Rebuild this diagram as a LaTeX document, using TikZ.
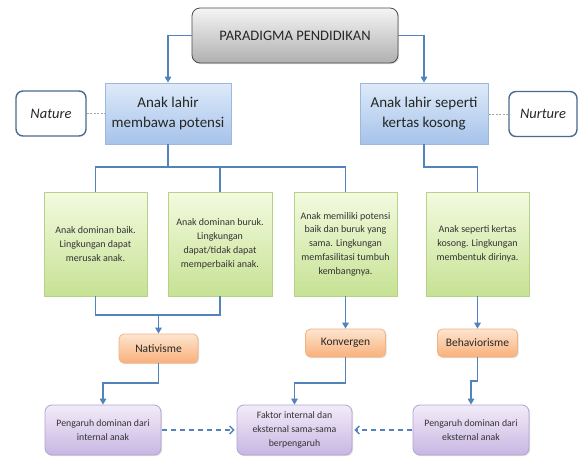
\documentclass[tikz,border=0pt]{standalone}
\usepackage{fontspec}
\setmainfont{Carlito}
\usetikzlibrary{arrows.meta,shadows}
\definecolor{conncol}{HTML}{5283BA}
\definecolor{txt}{HTML}{262626}
\definecolor{blueT}{HTML}{DEEAF9}
\definecolor{blueB}{HTML}{A6C3EA}
\definecolor{blueD}{HTML}{9DB8DD}
\definecolor{natD}{HTML}{4A6A90}
\definecolor{greenT}{HTML}{F4FADF}
\definecolor{greenB}{HTML}{C6E294}
\definecolor{greenD}{HTML}{B7D08A}
\definecolor{orT}{HTML}{FDE5D0}
\definecolor{orB}{HTML}{F9B07A}
\definecolor{orD}{HTML}{F3B284}
\definecolor{puT}{HTML}{F2ECF9}
\definecolor{puB}{HTML}{C8B6E2}
\definecolor{puD}{HTML}{B4A2D2}
\begin{document}
\begin{tikzpicture}[x=1pt,y=-1pt,
  box/.style={draw, inner sep=2pt, align=center, text=txt},
  shad/.style={drop shadow={opacity=0.25, shadow xshift=1.2pt, shadow yshift=-1.2pt}},
  topbox/.style={box, shad, rounded corners=8pt, top color=gray!8, bottom color=gray!62, draw=black!70, line width=0.8pt,
     minimum width=206pt, minimum height=55pt, font=\fontsize{14.5}{17}\selectfont},
  bluebox/.style={box, shad, top color=blueT, bottom color=blueB, draw=blueD, line width=0.8pt,
     minimum height=61pt, font=\fontsize{15}{20}\selectfont},
  natbox/.style={box, rounded corners=7pt, fill=white, draw=natD, line width=1.4pt,
     minimum height=45pt, font=\fontsize{14.5}{17}\selectfont\itshape},
  greenbox/.style={box, shad, top color=greenT, bottom color=greenB, draw=greenD, line width=0.8pt,
     minimum width=103pt, minimum height=104pt, font=\fontsize{10}{13.8}\selectfont, text=black!80},
  orangebox/.style={box, shad, rounded corners=5pt, top color=orT, bottom color=orB, draw=orD, line width=0.8pt,
     minimum width=80pt, minimum height=28pt, font=\fontsize{11.5}{14}\selectfont},
  purplebox/.style={box, shad, rounded corners=7pt, top color=puT, bottom color=puB, draw=puD, line width=0.8pt,
     minimum width=116pt, minimum height=50pt, font=\fontsize{9.8}{14}\selectfont, text=black!80},
  conn/.style={draw=conncol, line width=1.8pt},
  arr/.style={conn, -{Triangle[length=6pt,width=6.5pt]}},
  dasharr/.style={draw=conncol, line width=1.4pt, dash pattern=on 5pt off 4pt, -{Straight Barb[length=4pt,width=8pt]}},
  dotline/.style={draw=gray!70, line width=0.8pt, dash pattern=on 2pt off 1.5pt}
]
\useasboundingbox (0,0) rectangle (579,456);
\fill[white] (0,0) rectangle (579,456);

% nodes
\node[topbox] (top) at (295,35.5) {PARADIGMA PENDIDIKAN};
\node[bluebox, minimum width=126pt] (bL) at (168,113.5) {Anak lahir\\membawa potensi};
\node[bluebox, minimum width=128pt] (bR) at (424,113.5) {Anak lahir seperti\\kertas kosong};
\node[natbox, minimum width=70pt] (nat) at (51,113.5) {Nature};
\node[natbox, minimum width=68pt] (nur) at (543,114) {Nurture};

\node[greenbox] (g1) at (95.5,244) {Anak dominan baik.\\Lingkungan dapat\\merusak anak.};
\node[greenbox, minimum width=104pt] (g2) at (220,244) {Anak dominan buruk.\\Lingkungan\\dapat/tidak dapat\\memperbaiki anak.};
\node[greenbox] (g3) at (345.5,244) {Anak memiliki potensi\\baik dan buruk yang\\sama. Lingkungan\\memfasilitasi tumbuh\\kembangnya.};
\node[greenbox] (g4) at (477.5,244) {Anak seperti kertas\\kosong. Lingkungan\\membentuk dirinya.};

\node[orangebox, minimum width=79pt, minimum height=29pt] (onat) at (158.5,348.5) {Nativisme};
\node[orangebox] (okon) at (345.5,343) {Konvergen};
\node[orangebox] (obeh) at (477.5,343) {Behaviorisme};

\node[purplebox] (p1) at (103,430) {Pengaruh dominan dari\\internal anak};
\node[purplebox, minimum width=115pt] (p2) at (294.5,430) {Faktor internal dan\\eksternal sama-sama\\berpengaruh};
\node[purplebox] (p3) at (471,430) {Pengaruh dominan dari\\eksternal anak};

% levels
\coordinate (bus1) at (0,167);
\coordinate (bus2) at (0,315);
\coordinate (bus3) at (0,383);
\coordinate (bus4) at (0,381);

% connectors
\draw[arr] (top.west) -| (bL.north);
\draw[arr] (top.east) -| (bR.north);
\draw[dotline] (nat.east) -- (nat.east -| bL.west);
\draw[dotline] (nur.west) -- (nur.west -| bR.east);

\draw[conn] (bL.south) -- (bL.south |- bus1);
\draw[conn] (g1.north) -- (g1.north |- bus1) -| (g3.north);
\draw[conn] (g2.north) -- (g2.north |- bus1);
\draw[conn] (bR.south) -- (bR.south |- bus1) -| (g4.north);

\draw[conn] (g1.south) -- (g1.south |- bus2) -- (g2.south |- bus2) -- (g2.south);
\draw[arr] (onat.north |- bus2) -- (onat.north);
\draw[arr] (g3.south) -- (okon.north);
\draw[arr] (g4.south) -- (obeh.north);

\draw[arr] (onat.south) -- (onat.south |- bus3) -| (p1.north);
\draw[arr] (okon.south) -- (okon.south |- bus3) -| (p2.north);
\draw[arr] (obeh.south) -- (obeh.south |- bus4) -| (p3.north);

\draw[dasharr, shorten <=1pt, shorten >=2pt] (p1.east) -- (p2.west);
\draw[dasharr, shorten <=1pt, shorten >=2pt] (p3.west) -- (p2.east);
\end{tikzpicture}
\end{document}
